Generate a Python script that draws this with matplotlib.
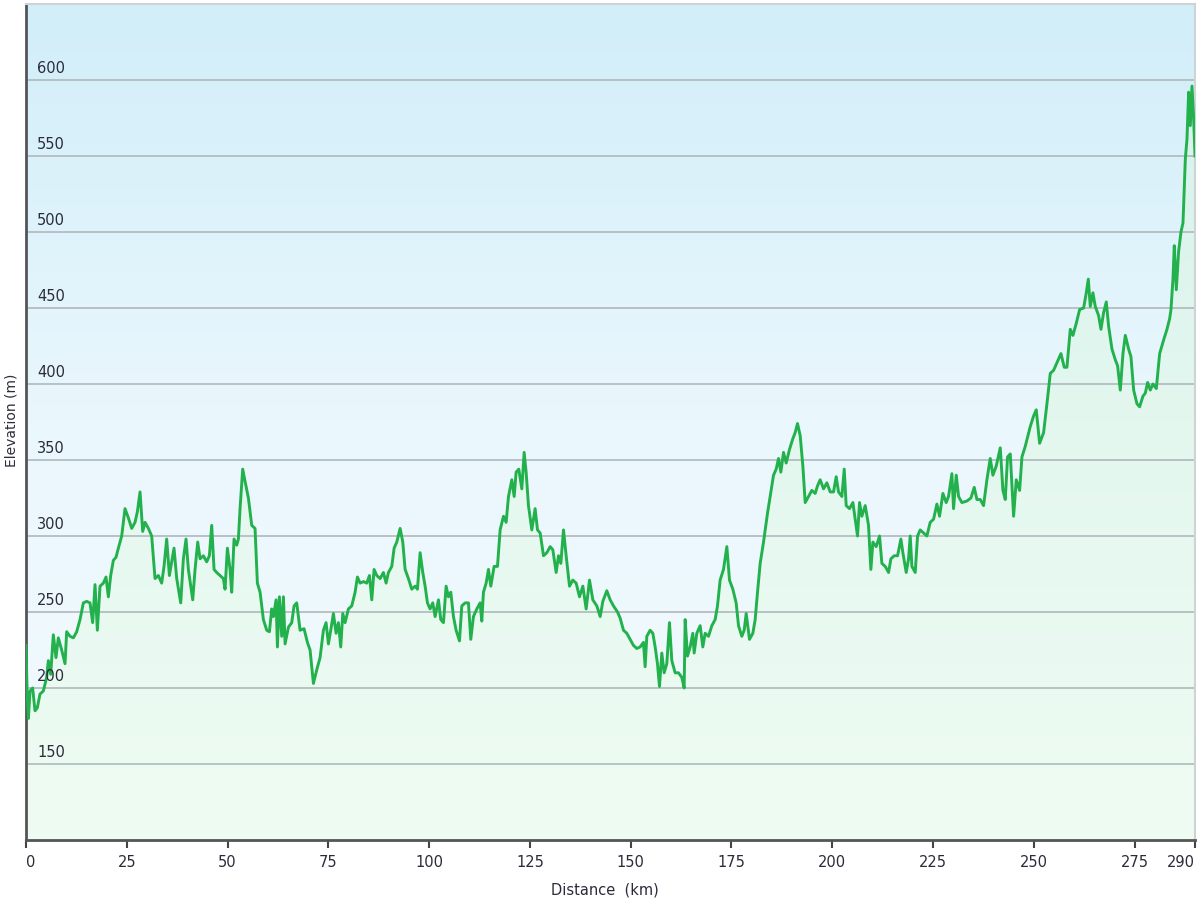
import matplotlib
matplotlib.use("Agg")
import matplotlib.pyplot as plt
import numpy as np
from matplotlib.colors import LinearSegmentedColormap
import matplotlib.transforms as mtransforms

# --- data: elevation profile ---
distance_km = [
    0.0, 0.3, 0.6, 1.0, 1.65, 2.23, 2.81, 3.47, 4.30, 5.13, 5.54, 6.12, 6.78, 7.44, 8.02, 8.85,
    9.68, 10.09, 10.92, 11.75, 12.57, 13.40, 14.23, 15.05, 15.88, 16.54, 17.12, 17.70, 18.36,
    19.19, 19.85, 20.43, 21.01, 21.67, 22.33, 22.91, 23.74, 24.56, 25.39, 26.22, 27.05, 27.63,
    28.29, 28.95, 29.53, 30.36, 31.18, 32.01, 32.84, 33.66, 34.24, 34.90, 35.57, 36.15, 36.72,
    37.39, 38.38, 39.04, 39.70, 40.28, 41.36, 41.94, 42.60, 43.18, 44.00, 44.83, 45.49, 46.07,
    46.65, 47.31, 48.14, 48.96, 49.38, 49.96, 50.62, 51.03, 51.61, 52.28, 52.69, 53.10, 53.76,
    54.34, 55.17, 56.00, 56.82, 57.40, 58.07, 58.89, 59.72, 60.38, 60.96, 61.37, 62.04, 62.37,
    62.86, 63.44, 63.86, 64.27, 65.10, 65.92, 66.50, 67.16, 67.99, 68.98, 69.81, 70.47, 71.30,
    72.13, 72.95, 73.78, 74.44, 75.02, 75.60, 76.26, 76.92, 77.50, 78.08, 78.58, 79.16, 79.98,
    80.81, 81.64, 82.22, 82.88, 83.71, 84.53, 85.20, 85.78, 86.35, 87.02, 87.84, 88.67, 89.33,
    89.91, 90.74, 91.32, 91.98, 92.81, 93.47, 94.05, 94.87, 95.70, 96.53, 97.11, 97.77, 98.43,
    99.01, 99.59, 100.25, 100.91, 101.49, 102.32, 102.90, 103.56, 104.22, 104.80, 105.38,
    106.04, 106.70, 107.53, 108.11, 108.94, 109.76, 110.34, 111.00, 111.83, 112.66, 113.07,
    113.48, 114.15, 114.73, 115.31, 116.13, 116.96, 117.62, 118.45, 119.11, 119.69, 120.52,
    121.10, 121.59, 122.25, 123.00, 123.58, 124.07, 124.65, 125.48, 126.30, 126.89, 127.55,
    128.38, 129.20, 130.03, 130.69, 131.52, 132.10, 132.68, 133.34, 134.00, 134.83, 135.65,
    136.48, 137.31, 138.14, 138.96, 139.79, 140.62, 141.61, 142.44, 143.10, 144.09, 144.92,
    145.74, 146.74, 147.39, 148.22, 149.04, 149.87, 150.70, 151.53, 152.35, 153.18, 153.59,
    154.01, 154.83, 155.50, 156.08, 156.65, 157.15, 157.73, 158.31, 158.97, 159.63, 160.21,
    161.04, 161.86, 162.69, 163.27, 163.52, 164.10, 164.76, 165.42, 165.75, 166.41, 167.24,
    167.90, 168.48, 169.31, 170.14, 170.96, 171.54, 172.20, 173.03, 173.86, 174.52, 175.35,
    176.17, 176.76, 177.58, 178.16, 178.66, 179.48, 180.31, 180.89, 181.47, 182.13, 182.96,
    183.37, 183.95, 184.61, 185.44, 186.10, 186.68, 187.26, 187.92, 188.58, 189.41, 190.23,
    190.81, 191.39, 192.06, 192.72, 193.30, 194.12, 194.95, 195.78, 196.36, 197.02, 197.85,
    198.67, 199.50, 200.33, 200.99, 201.57, 202.40, 202.98, 203.47, 204.30, 205.13, 205.71,
    206.28, 206.78, 207.36, 208.19, 209.01, 209.59, 210.09, 210.91, 211.74, 212.32, 213.15,
    213.98, 214.56, 215.38, 216.21, 217.04, 217.53, 218.36, 218.94, 219.35, 219.77, 220.59,
    221.17, 221.83, 222.66, 223.49, 224.31, 225.14, 225.97, 226.63, 227.46, 228.28, 228.86,
    229.69, 230.10, 230.77, 231.35, 232.17, 233.41, 234.41, 235.23, 235.90, 236.72, 237.55,
    238.38, 239.20, 239.86, 240.69, 241.69, 242.35, 242.93, 243.50, 244.17, 245.00, 245.66,
    246.49, 247.07, 247.89, 248.47, 249.13, 249.96, 250.62, 251.45, 252.44, 253.27, 254.10,
    254.92, 255.92, 256.74, 257.57, 258.23, 259.06, 259.72, 260.55, 261.38, 262.37, 263.03,
    263.53, 264.02, 264.68, 265.26, 266.09, 266.67, 267.33, 267.99, 268.57, 269.40, 270.22,
    270.80, 271.47, 272.13, 272.71, 273.53, 274.11, 274.78, 275.60, 276.26, 277.09, 277.67,
    278.25, 278.91, 279.57, 280.40, 281.23, 282.22, 283.05, 283.71, 284.04, 284.53, 284.86,
    285.36, 285.93, 286.52, 287.02, 287.60, 288.01, 288.42, 288.84, 289.25, 289.66, 290.0,
]
elevation_m = [
    228, 195, 180, 198, 200, 185, 187, 196, 198, 207, 218, 209, 235, 220, 233, 225,
    216, 237, 234, 233, 237, 245, 256, 257, 256, 243, 268, 238, 267,
    269, 273, 260, 274, 284, 286, 292, 300, 318, 312, 305, 309, 316,
    329, 303, 309, 305, 300, 272, 274, 269, 280, 298, 274, 283, 292,
    272, 256, 285, 298, 278, 258, 278, 296, 285, 287, 283, 287, 307,
    278, 276, 274, 272, 265, 292, 278, 263, 298, 294, 298, 318, 344,
    336, 325, 307, 305, 269, 263, 245, 238, 237, 252, 247, 258, 227,
    260, 234, 260, 229, 240, 243, 254, 256, 238, 239, 230, 225, 203,
    212, 220, 238, 243, 229, 238, 249, 236, 243, 227, 249, 243, 252,
    254, 263, 273, 269, 270, 269, 274, 258, 278, 274, 272, 276, 269,
    276, 280, 292, 296, 305, 296, 278, 272, 265, 267, 265, 289, 276,
    267, 256, 252, 256, 247, 258, 245, 243, 267, 260, 263,
    247, 238, 231, 254, 256, 256, 232, 247, 252, 256, 244,
    263, 269, 278, 267, 280, 280, 304, 313, 309, 326, 337,
    326, 342, 344, 331, 355, 342, 320, 304, 318, 304, 302,
    287, 289, 293, 291, 276, 287, 282, 304, 287, 267, 271,
    269, 260, 267, 252, 271, 258, 254, 247, 257, 264, 258,
    254, 250, 246, 238, 236, 232, 228, 226, 227, 230, 214,
    234, 238, 236, 227, 216, 201, 223, 210, 216, 243, 218,
    210, 210, 207, 200, 245, 221, 227, 236, 223, 236, 241,
    227, 236, 234, 241, 245, 254, 271, 278, 293, 271, 265,
    256, 241, 234, 238, 249, 232, 236, 245, 263, 282, 296,
    304, 315, 326, 340, 344, 351, 342, 355, 348, 357, 364,
    368, 374, 366, 346, 322, 326, 330, 328, 333, 337, 331,
    335, 329, 329, 339, 329, 326, 344, 320, 318, 322, 311,
    300, 322, 313, 320, 307, 278, 296, 293, 300, 282, 280,
    276, 285, 287, 287, 298, 289, 276, 285, 300, 280, 276,
    300, 304, 302, 300, 309, 311, 321, 313, 328, 322, 326,
    341, 318, 340, 326, 322, 323, 325, 332, 324, 324, 320,
    337, 351, 340, 346, 358, 330, 324, 352, 354, 313, 337,
    330, 352, 359, 365, 372, 379, 383, 361, 368, 387, 407,
    409, 415, 420, 411, 411, 436, 432, 440, 449, 450, 460,
    469, 451, 460, 451, 445, 436, 447, 454, 438, 423, 416,
    412, 396, 420, 432, 423, 418, 396, 387, 385, 392, 394,
    401, 396, 400, 397, 420, 429, 436, 443, 449, 469, 491,
    462, 487, 500, 506, 548, 561, 592, 570, 596, 575, 550,
]
x_ticks = [0, 25, 50, 75, 100, 125, 150, 175, 200, 225, 250, 275, 290]
y_grid = [150, 200, 250, 300, 350, 400, 450, 500, 550, 600]

LINE_COLOR = '#22b14c'
TEXT_COLOR = '#2b2b3a'

fig = plt.figure(figsize=(12, 9), dpi=100)
ax = fig.add_axes([26 / 1200, 60 / 900, 1169 / 1200, 836 / 900])

x_min, x_max = 0, 290
y_min, y_max = 100, 650
ax.set_xlim(x_min, x_max)
ax.set_ylim(y_min, y_max)

# background gradient: light blue at top fading to almost white at bottom
bg = LinearSegmentedColormap.from_list('bg', ['#f3fbfd', '#eaf7fd', '#d1eef9'])
grad = np.linspace(0, 1, 256).reshape(-1, 1)
ax.imshow(grad, aspect='auto', cmap=bg, origin='lower',
          extent=[x_min, x_max, y_min, y_max], zorder=0)

# green tinted area under the profile (gradient clipped to the fill)
fill = ax.fill_between(distance_km, elevation_m, y_min, color='none', lw=0, zorder=1)
gn = LinearSegmentedColormap.from_list('gn', ['#effcf3', '#e3f7ef', '#d6f1ec'])
im = ax.imshow(grad, aspect='auto', cmap=gn, origin='lower',
               extent=[x_min, x_max, y_min, y_max], zorder=1)
im.set_clip_path(fill.get_paths()[0], transform=ax.transData)

# horizontal grid lines
for g in y_grid:
    ax.axhline(g, color='#b0b8bc', lw=1.2, zorder=2)

ax.plot(distance_km, elevation_m, color=LINE_COLOR, lw=2.1, zorder=3,
        solid_joinstyle='round')

# y labels sit inside the plot, just above each grid line
trans = mtransforms.blended_transform_factory(ax.transAxes, ax.transData)
for g in y_grid:
    ax.text(0.0095, g + 2.5, str(g), transform=trans, ha='left', va='bottom',
            fontsize=10.5, color=TEXT_COLOR, zorder=4)
ax.set_yticks([])

ax.set_xticks(x_ticks)
labels = ax.set_xticklabels([str(t) for t in x_ticks], fontsize=10.5, color=TEXT_COLOR)
labels[0].set_horizontalalignment('left')
labels[-1].set_horizontalalignment('right')
ax.tick_params(axis='x', direction='out', length=6, width=1.5, color='#444444', pad=5)

for side in ['top', 'right']:
    ax.spines[side].set_color('#cfd3d5')
    ax.spines[side].set_linewidth(1.5)
for side in ['left', 'bottom']:
    ax.spines[side].set_color('#555555')
    ax.spines[side].set_linewidth(2)

fig.text(605 / 1200, 1 - 890 / 900, 'Distance  (km)', ha='center', va='center',
         fontsize=10.5, color=TEXT_COLOR)
fig.text(12 / 1200, 1 - 420 / 900, 'Elevation (m)', ha='center', va='center',
         rotation=90, fontsize=10, color=TEXT_COLOR)

fig.savefig('out.png', dpi=100)
